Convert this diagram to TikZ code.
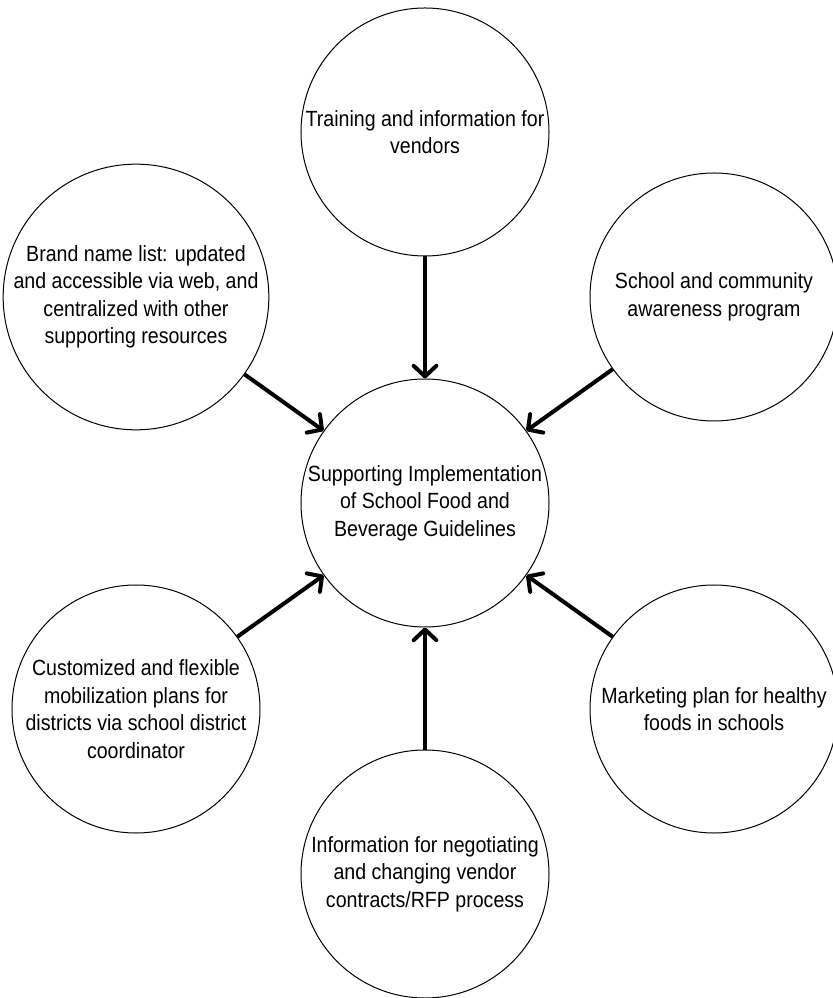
\documentclass[tikz,border=0pt]{standalone}
\usepackage{fontspec}
\setmainfont[FakeStretch=0.89]{Liberation Sans}
\usetikzlibrary{arrows.meta,positioning}

\begin{document}
\begin{tikzpicture}[x=0.75pt,y=0.75pt,>={Straight Barb[length=8pt,width=17pt,round]},node distance=278.25pt,on grid,
	bubble/.style={circle,draw,line width=0.75pt,minimum size=186pt,inner sep=0pt,align=center,font=\fontsize{16.5}{20.6}\selectfont}]

\useasboundingbox (-425,-495) rectangle (407,503);

\node[bubble]   (hub)      				{Supporting Implementation\\of School Food and\\Beverage Guidelines};
\node[bubble]   (train)[above=of hub]      				{Training and information for\\vendors};
\node[bubble]   (brand)[above left=154.5pt and 216.75pt of hub]      				{Brand name list: updated\\and accessible via web, and\\centralized with other\\supporting resources};
\node[bubble]   (aware)[above right=154.5pt and 216.75pt of hub]      				{School and community\\awareness program};
\node[bubble]   (mobil)[below left=154.5pt and 216.75pt of hub]      				{Customized and flexible\\mobilization plans for\\districts via school district\\coordinator};
\node[bubble]   (market)[below right=154.5pt and 216.75pt of hub]      				{Marketing plan for healthy\\foods in schools};
\node[bubble]   (contract)[below=of hub]      				{Information for negotiating\\and changing vendor\\contracts/RFP process};

	\path[->,line width=3pt] (train)  edge	  	(hub)
						(brand)  edge	  	(hub)
						(aware)  edge	  	(hub)
						(mobil)  edge	  	(hub)
						(market)  edge	  	(hub)
						(contract)  edge	  	(hub);

\end{tikzpicture}
\end{document}
